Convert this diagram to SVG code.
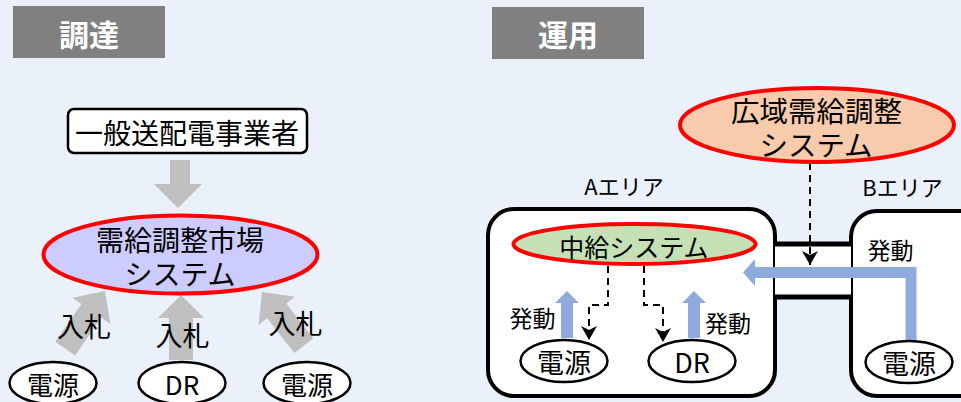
<svg xmlns="http://www.w3.org/2000/svg" width="961" height="402" viewBox="0 0 961 402">
<defs>
<style>
text{font-family:"Noto Sans CJK JP","Liberation Sans",sans-serif;fill:#000;text-anchor:middle;dominant-baseline:central}
.hdr{fill:#808080}
.hdrt{fill:#fff;font-weight:bold;font-size:30px}
.sys{stroke:#FF0000;stroke-width:4}
.src{fill:#fff;stroke:#000;stroke-width:2.5}
.gray{fill:#BFBFBF}
.blue{fill:#8FAADC}
.dash{fill:none;stroke:#000;stroke-width:2;stroke-dasharray:7 5}
.area{fill:#fff;stroke:#000;stroke-width:4}
</style>
<marker id="ah" markerUnits="userSpaceOnUse" viewBox="-1 -9 16 18" refX="14" refY="0" markerWidth="16" markerHeight="18" orient="auto">
<path d="M0,-8 L14,0 L0,8 L4,0 z" fill="#000"/>
</marker>
</defs>
<rect width="961" height="402" fill="#EAF1FA"/>

<g id="hdr-procure"><rect class="hdr" x="13" y="6" width="152" height="52"/><text class="hdrt" x="89" y="33">調達</text></g>
<g id="hdr-operate"><rect class="hdr" x="492" y="7" width="152" height="52"/><text class="hdrt" x="568" y="33">運用</text></g>

<g id="areaA"><rect class="area" x="488" y="209" width="287" height="187" rx="26"/><text x="624" y="185" font-size="22">Aエリア</text></g>
<g id="areaB"><rect class="area" x="851" y="211" width="150" height="185" rx="26"/><text x="902.5" y="186" font-size="22">Bエリア</text></g>
<g id="tie"><rect x="775" y="244" width="76" height="53" fill="#fff"/><path d="M775,244 H851 M775,297 H851" stroke="#000" stroke-width="5"/></g>

<g id="connectors">
<polygon class="gray" points="170,160 190,160 190,184 202,184 178,208 154,184 170,184"/>
<polygon class="gray" transform="translate(105,291) rotate(34.6)" points="0,0 23,24 12,24 12,70 -12,70 -12,24 -23,24"/>
<polygon class="gray" transform="translate(181,295)" points="0,0 23,23 12,23 12,65 -12,65 -12,23 -23,23"/>
<polygon class="gray" transform="translate(262,292) rotate(-37.9)" points="0,0 23,24 12,24 12,68 -12,68 -12,24 -23,24"/>
<path class="dash" d="M810,163 V265" marker-end="url(#ah)"/>
<path class="dash" d="M608,266 V305 H589 V340" marker-end="url(#ah)"/>
<path class="dash" d="M644,266 V305 H663 V342" marker-end="url(#ah)"/>
<polygon class="blue" points="561,338 573,338 573,303 579,303 567,291 555,303 561,303"/>
<polygon class="blue" points="688,338 700,338 700,303 706,303 694,291 682,303 688,303"/>
<path d="M911,340 V272.5 H754" fill="none" stroke="#8FAADC" stroke-width="11" stroke-linejoin="miter"/>
<polygon class="blue" points="755,259 743,272.5 755,286"/>
</g>

<g id="tso"><rect x="68" y="109" width="239" height="44" rx="6" fill="#fff" stroke="#000" stroke-width="2.5"/><text x="187" y="132" font-size="28">一般送配電事業者</text></g>
<g id="market"><ellipse class="sys" cx="180.5" cy="254.5" rx="137" ry="39" fill="#CCCCFF"/><text font-size="28"><tspan x="180" y="239">需給調整市場</tspan><tspan x="180" y="273">システム</tspan></text></g>
<g id="bid-labels"><text x="84" y="325" font-size="27">入札</text><text x="182.5" y="334" font-size="27">入札</text><text x="295.5" y="322" font-size="27">入札</text></g>
<g id="gen1"><ellipse class="src" cx="53" cy="383" rx="43.5" ry="21"/><text x="53" y="383" font-size="26">電源</text></g>
<g id="dr1"><ellipse class="src" cx="182" cy="383" rx="43.5" ry="21"/><text x="182" y="383" font-size="26">DR</text></g>
<g id="gen2"><ellipse class="src" cx="307" cy="383" rx="43.5" ry="21"/><text x="307" y="383" font-size="26">電源</text></g>

<g id="wide"><ellipse class="sys" cx="817" cy="125" rx="137" ry="37" fill="#F8CBAD"/><text font-size="28.5"><tspan x="816.5" y="109">広域需給調整</tspan><tspan x="816" y="143">システム</tspan></text></g>
<g id="central"><ellipse class="sys" cx="634.5" cy="244" rx="121" ry="20" fill="#C5E0B4"/><text x="634" y="246" font-size="25">中給システム</text></g>
<g id="fire-labels"><text x="532.5" y="317" font-size="23">発動</text><text x="728" y="322" font-size="23">発動</text><text x="890.5" y="248.5" font-size="23">発動</text></g>
<g id="genA"><ellipse class="src" cx="564" cy="361" rx="43.5" ry="21"/><text x="564" y="361" font-size="27">電源</text></g>
<g id="drA"><ellipse class="src" cx="692" cy="361" rx="43.5" ry="21"/><text x="692" y="361" font-size="27">DR</text></g>
<g id="genB"><ellipse class="src" cx="909" cy="362" rx="43.5" ry="21"/><text x="909" y="362" font-size="27">電源</text></g>
</svg>
